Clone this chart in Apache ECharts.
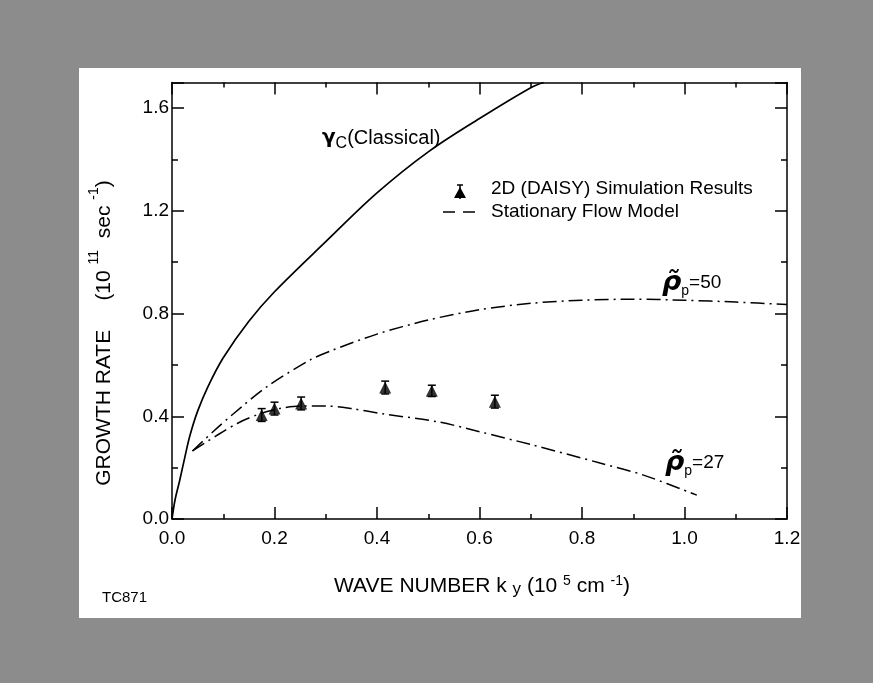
<!DOCTYPE html>
<html>
<head>
<meta charset="utf-8">
<script src="https://cdn.jsdelivr.net/npm/echarts@6/dist/echarts.min.js"></script>
<style>
html,body{margin:0;padding:0;background:#8c8c8c}
#main{width:873px;height:683px}
</style>
</head>
<body>
<div id="main"></div>
<script>
// γc (classical) curve
var classicalK = [0, 0.006, 0.015, 0.025, 0.035, 0.05, 0.07, 0.1, 0.15, 0.2, 0.3, 0.4, 0.5, 0.6, 0.7, 0.725];
var classicalG = [0, 0.075, 0.15, 0.24, 0.325, 0.42, 0.515, 0.628, 0.77, 0.885, 1.08, 1.27, 1.43, 1.56, 1.68, 1.70];
// stationary flow model, rho_p = 50
var rho50K = [0.04, 0.08, 0.12, 0.185, 0.27, 0.31, 0.4, 0.5, 0.6, 0.7, 0.8, 0.9, 1.0, 1.1, 1.2];
var rho50G = [0.265, 0.34, 0.41, 0.515, 0.62, 0.655, 0.72, 0.775, 0.815, 0.84, 0.852, 0.856, 0.852, 0.845, 0.835];
// stationary flow model, rho_p = 27
var rho27K = [0.04, 0.087, 0.13, 0.172, 0.21, 0.25, 0.3, 0.35, 0.41, 0.52, 0.6, 0.7, 0.835, 0.92, 1.024];
var rho27G = [0.265, 0.325, 0.375, 0.41, 0.43, 0.44, 0.44, 0.43, 0.41, 0.378, 0.34, 0.29, 0.218, 0.171, 0.093];
// 2D (DAISY) simulation
var simK = [0.175, 0.2, 0.252, 0.416, 0.507, 0.63];
var simG = [0.405, 0.43, 0.45, 0.512, 0.499, 0.457];
var simErr = [0.025, 0.025, 0.025, 0.025, 0.022, 0.025];

var xTickLabels = ['0.0', '0.2', '0.4', '0.6', '0.8', '1.0', '1.2'];
var yTickLabels = ['0.0', '0.4', '0.8', '1.2', '1.6'];

function pairs(a, b) {
    return a.map(function (v, i) { return [v, b[i]]; });
}

var FONT = '"Liberation Sans", Arial, Helvetica, sans-serif';
var myChart = echarts.init(document.getElementById('main'));

function xAx(pos, labels) {
    return {
        type: 'value', position: pos, min: 0, max: 1.2, interval: 0.2,
        axisLine: {show: true, onZero: false, lineStyle: {color: '#000', width: 1.5}},
        axisTick: {show: true, inside: true, length: 12, lineStyle: {color: '#000', width: 1.5}},
        minorTick: {show: true, splitNumber: 2, length: 5, lineStyle: {color: '#000', width: 1.5}},
        axisLabel: {show: labels, margin: 10, fontSize: 19, color: '#000', fontFamily: FONT,
            formatter: function (v) { return xTickLabels[Math.round(v / 0.2)] || ''; }},
        splitLine: {show: false}, minorSplitLine: {show: false}
    };
}
function yAx(pos, step, len, labels, line) {
    return {
        type: 'value', position: pos, min: 0, max: 1.7, interval: step,
        axisLine: {show: line, onZero: false, lineStyle: {color: '#000', width: 1.5}},
        axisTick: {show: true, inside: true, length: len, lineStyle: {color: '#000', width: 1.5}},
        axisLabel: {show: labels, margin: 3, fontSize: 19, color: '#000', fontFamily: FONT,
            formatter: function (v) {
                if (v > 1.65) return '';
                return yTickLabels[Math.round(v / 0.4)] || '';
            }},
        splitLine: {show: false}
    };
}

var rhoRich = {
    r: {fontSize: 27, fontWeight: 'bold', fontStyle: 'italic', fontFamily: '"DejaVu Sans", sans-serif', fill: '#000', lineHeight: 30, verticalAlign: 'middle'},
    p: {fontSize: 14, fontFamily: FONT, fill: '#000', lineHeight: 12, verticalAlign: 'bottom'},
    n: {fontSize: 19, fontFamily: FONT, fill: '#000', lineHeight: 30, verticalAlign: 'middle'}
};

var option = {
    backgroundColor: '#8c8c8c',
    animation: false,
    grid: {left: 172, right: 86, top: 82.5, bottom: 164},
    xAxis: [xAx('bottom', true), xAx('top', false)],
    yAxis: [
        yAx('left', 0.4, 12, true, true),
        yAx('left', 0.2, 6, false, false),
        yAx('right', 0.4, 12, false, true),
        yAx('right', 0.2, 6, false, false)
    ],
    graphic: [
        {type: 'rect', z: -10, shape: {x: 79, y: 68, width: 722, height: 550}, style: {fill: '#fff'}},
        // y axis title
        {type: 'text', x: 101, y: 333, rotation: Math.PI / 2, style: {
            text: '{m|GROWTH RATE     (10 }{s|11}{m|  sec }{s|-1}{m|)}',
            align: 'center', verticalAlign: 'middle',
            rich: {
                m: {fontSize: 21, fontFamily: FONT, fill: '#000', lineHeight: 28, verticalAlign: 'bottom'},
                s: {fontSize: 14, fontFamily: FONT, fill: '#000', lineHeight: 16, verticalAlign: 'top'}
            }}},
        // x axis title
        {type: 'text', x: 482, y: 586, style: {
            text: '{m|WAVE NUMBER k }{b|y}{m| (10 }{s|5}{m| cm }{s|-1}{m|)}',
            align: 'center', verticalAlign: 'middle',
            rich: {
                m: {fontSize: 21, fontFamily: FONT, fill: '#000', lineHeight: 24, verticalAlign: 'middle'},
                s: {fontSize: 14, fontFamily: FONT, fill: '#000', lineHeight: 16, verticalAlign: 'top'},
                b: {fontSize: 17, fontFamily: FONT, fill: '#000', lineHeight: 16, verticalAlign: 'bottom'}
            }}},
        {type: 'text', x: 102, y: 598, style: {text: 'TC871', fontSize: 15, fontFamily: FONT, fill: '#000', verticalAlign: 'middle'}},
        // curve labels
        {type: 'text', x: 322, y: 138, style: {
            text: '{g|\u03b3}{c|C}{t|(Classical)}', verticalAlign: 'middle',
            rich: {
                g: {fontSize: 20, fontWeight: 'bold', fontFamily: '"DejaVu Sans", sans-serif', fill: '#000', lineHeight: 28, verticalAlign: 'middle'},
                c: {fontSize: 16, fontFamily: FONT, fill: '#000', lineHeight: 14, verticalAlign: 'bottom'},
                t: {fontSize: 20, fontFamily: FONT, fill: '#000', lineHeight: 28, verticalAlign: 'middle'}
            }}},
        {type: 'text', x: 662, y: 283, style: {text: '{r|\u03c1\u0303}{p|p}{n|=50}', verticalAlign: 'middle', rich: rhoRich}},
        {type: 'text', x: 665, y: 463, style: {text: '{r|\u03c1\u0303}{p|p}{n|=27}', verticalAlign: 'middle', rich: rhoRich}},
        // legend
        {type: 'line', shape: {x1: 460, y1: 185, x2: 460, y2: 199}, style: {stroke: '#000', lineWidth: 1.5}},
        {type: 'line', shape: {x1: 457, y1: 185, x2: 463, y2: 185}, style: {stroke: '#000', lineWidth: 1.5}},
        {type: 'polygon', shape: {points: [[460, 187], [466, 198], [454, 198]]}, style: {fill: '#000'}},
        {type: 'line', shape: {x1: 443, y1: 212, x2: 455, y2: 212}, style: {stroke: '#000', lineWidth: 1.5}},
        {type: 'line', shape: {x1: 463, y1: 212, x2: 475, y2: 212}, style: {stroke: '#000', lineWidth: 1.5}},
        {type: 'text', x: 491, y: 189, style: {text: '2D (DAISY) Simulation Results', fontSize: 19, fontFamily: FONT, fill: '#000', verticalAlign: 'middle'}},
        {type: 'text', x: 491, y: 212, style: {text: 'Stationary Flow Model', fontSize: 19, fontFamily: FONT, fill: '#000', verticalAlign: 'middle'}}
    ],
    series: [
        {
            name: 'classical', type: 'line', data: pairs(classicalK, classicalG),
            smooth: 0.35, showSymbol: false, silent: true,
            lineStyle: {color: '#000', width: 1.7}
        },
        {
            name: 'rho50', type: 'line', data: pairs(rho50K, rho50G),
            smooth: 0.3, showSymbol: false, silent: true,
            lineStyle: {color: '#000', width: 1.5, type: [14, 5, 2, 5]}
        },
        {
            name: 'rho27', type: 'line', data: pairs(rho27K, rho27G),
            smooth: 0.3, showSymbol: false, silent: true,
            lineStyle: {color: '#000', width: 1.5, type: [14, 5, 2, 5]}
        },
        {
            name: 'sim', type: 'scatter', data: pairs(simK, simG),
            symbol: 'triangle', symbolSize: [12, 12], itemStyle: {color: '#000'}
        },
        {
            name: 'simErr', type: 'custom',
            data: simK.map(function (k, i) { return [k, simG[i], simErr[i]]; }),
            encode: {x: 0, y: 1},
            renderItem: function (params, api) {
                var x = api.value(0), y = api.value(1), e = api.value(2);
                var top = api.coord([x, y + e]);
                var bot = api.coord([x, y - e]);
                var w = 4;
                var st = {stroke: '#000', lineWidth: 1.5};
                return {type: 'group', children: [
                    {type: 'line', shape: {x1: top[0], y1: top[1], x2: bot[0], y2: bot[1]}, style: st},
                    {type: 'line', shape: {x1: top[0] - w, y1: top[1], x2: top[0] + w, y2: top[1]}, style: st},
                    {type: 'line', shape: {x1: bot[0] - w, y1: bot[1], x2: bot[0] + w, y2: bot[1]}, style: st}
                ]};
            }
        }
    ]
};

myChart.setOption(option);
</script>
</body>
</html>
